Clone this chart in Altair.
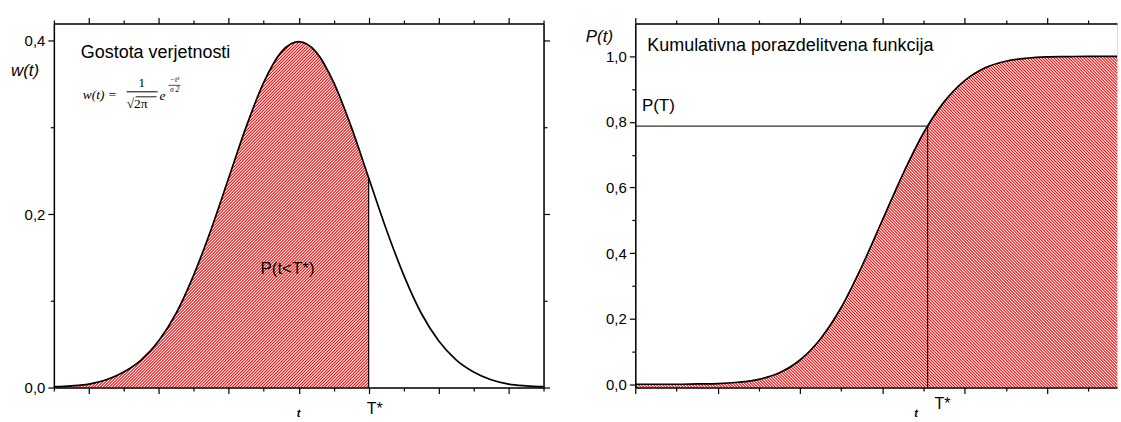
import math

import altair as alt
import pandas as pd

FONT = "Liberation Sans"
SERIF = "Liberation Serif"

# ---- left panel: probability density w(t), t in units of sigma ----
t_pdf = [-3.5, -3.25, -3.0, -2.75, -2.5, -2.25, -2.0, -1.75, -1.5, -1.25, -1.0,
         -0.75, -0.5, -0.25, 0.0, 0.25, 0.5, 0.75, 1.0, 1.25, 1.5, 1.75, 2.0,
         2.25, 2.5, 2.75, 3.0, 3.25, 3.5]
w_pdf = [0.001, 0.002, 0.004, 0.009, 0.018, 0.032, 0.054, 0.086, 0.130, 0.183, 0.242,
         0.301, 0.352, 0.387, 0.399, 0.387, 0.352, 0.301, 0.242, 0.183, 0.130, 0.086, 0.054,
         0.032, 0.018, 0.009, 0.004, 0.002, 0.001]
t_star_pdf = 1.0
w_star = 0.242

# ---- right panel: cumulative distribution P(t) ----
t_cdf = [0.0, 0.25, 0.5, 0.75, 1.0, 1.25, 1.5, 1.75, 2.0, 2.25, 2.5, 2.75, 3.0,
         3.25, 3.5, 3.75, 4.0, 4.25, 4.5, 4.75, 5.0, 5.25, 5.5, 5.85]
p_cdf = [0.000, 0.000, 0.000, 0.001, 0.002, 0.006, 0.015, 0.035, 0.074, 0.139, 0.234, 0.359, 0.500,
         0.641, 0.766, 0.861, 0.926, 0.965, 0.985, 0.994, 0.998, 0.999, 1.000, 1.000]
t_star_cdf = 3.55
p_star = 0.787

# tick positions
pdf_x_major = [-3, -2, -1, 0, 1, 2, 3]
pdf_x_minor = [-3.5, -2.5, -1.5, -0.5, 0.5, 1.5, 2.5, 3.5]
pdf_y_major = [0.0, 0.2, 0.4]
pdf_y_minor = [0.1, 0.3]
cdf_x_major = [0, 1, 2, 3, 4, 5]
cdf_x_minor = [0.5, 1.5, 2.5, 3.5, 4.5, 5.5]
cdf_y_major = [0.0, 0.2, 0.4, 0.6, 0.8, 1.0]
cdf_y_minor = [0.1, 0.3, 0.5, 0.7, 0.9]

PDF_X, PDF_Y = [-3.5, 3.5], [0.0, 0.42]
CDF_X, CDF_Y = [0.0, 5.85], [-0.01, 1.1]
W1, H1 = 491, 365
W2, H2 = 483, 365


def hatch(w, h, rising, period=3.0, steps=6):
    """Diagonal red/white stripes as a linear gradient in bounding-box units.

    Each stripe is a smooth red-to-white ramp so the lines look anti-aliased.
    """
    n = math.ceil((w + h) / period)
    k = n * period / (w * w + h * h)
    stops = []
    for i in range(n):
        for j in range(steps):
            f = j / steps
            red = 0.5 * (1 + math.cos(2 * math.pi * f))
            g = round(255 * (1 - red))
            stops.append(alt.GradientStop(color=f"#ff{g:02x}{g:02x}",
                                          offset=round((i + f) / n, 7)))
    stops.append(alt.GradientStop(color="#ff0000", offset=1))
    if rising:   # "/" stripes
        return alt.Gradient(gradient="linear", stops=stops, x1=0, y1=0, x2=k * w, y2=k * h)
    return alt.Gradient(gradient="linear", stops=stops, x1=0, y1=1, x2=k * w, y2=1 - k * h)


def axis(orient, values, major, labels=False):
    kw = dict(orient=orient, values=values, title=None, grid=False, zindex=1,
              tickSize=6 if major else 3.5, tickColor="black", tickWidth=1.2,
              domain=major, domainColor="black", domainWidth=1.5, labels=labels)
    if labels:
        kw.update(labelExpr="replace(format(datum.value, '.1f'), '.', ',')",
                  labelFont=FONT, labelFontSize=15, labelColor="black",
                  labelPadding=3, labelFlush=False)
    return alt.Axis(**kw)


def sc(dom):
    return alt.Scale(domain=dom, nice=False, zero=False)


def curve_layers(df, xf, yf, xd, yd, xmaj, xmin, ymaj, ymin, right_axis=True):
    base = alt.Chart(df)
    main = base.mark_line(interpolate="monotone", color="black", strokeWidth=1.7).encode(
        x=alt.X(f"{xf}:Q", scale=sc(xd), axis=axis("top", xmaj, True)),
        y=alt.Y(f"{yf}:Q", scale=sc(yd),
                axis=axis("right", ymaj, True) if right_axis else None))
    ghost1 = base.mark_line(opacity=0).encode(
        x=alt.X(f"{xf}:Q", scale=sc(xd), axis=axis("bottom", xmin, False)),
        y=alt.Y(f"{yf}:Q", scale=sc(yd), axis=axis("left", ymin, False)))
    ghost2 = base.mark_line(opacity=0).encode(
        x=alt.X(f"{xf}:Q", scale=sc(xd), axis=axis("top", xmin, False)),
        y=alt.Y(f"{yf}:Q", scale=sc(yd),
                axis=axis("right", ymin, False) if right_axis else None))
    return main, ghost1, ghost2


def label(text, x, y, size=17, align="left", style="normal", weight="normal", font=FONT):
    return alt.Chart(alt.Data(values=[{}])).mark_text(
        text=text, font=font, fontSize=size, align=align, baseline="middle",
        fontStyle=style, fontWeight=weight, color="black").encode(
        x=alt.value(x), y=alt.value(y))


def bar(x0, x1, y, width=1.0):
    return alt.Chart(alt.Data(values=[{}])).mark_rule(color="black", strokeWidth=width).encode(
        x=alt.value(x0), x2=alt.value(x1), y=alt.value(y))


def data_text(xd, yd, text, xv, yv=None, ypix=None, size=17, align="left", dx=0,
              style="normal", weight="normal"):
    df = pd.DataFrame({"x": [xv], "y": [yv if yv is not None else 0.0]})
    enc = dict(x=alt.X("x:Q", scale=sc(xd), axis=None))
    enc["y"] = alt.value(ypix) if ypix is not None else alt.Y("y:Q", scale=sc(yd), axis=None)
    return alt.Chart(df).mark_text(
        text=text, font=FONT, fontSize=size, align=align, baseline="middle", dx=dx,
        fontStyle=style, fontWeight=weight, color="black").encode(**enc)


# ================= left panel =================
pdf = pd.DataFrame({"t": t_pdf, "w": w_pdf})
pdf_fill = pdf[pdf["t"] <= t_star_pdf]

hw = W1 * (t_star_pdf - PDF_X[0]) / (PDF_X[1] - PDF_X[0])
hh = H1 * (max(w_pdf) - PDF_Y[0]) / (PDF_Y[1] - PDF_Y[0])
area_l = alt.Chart(pdf_fill).mark_area(
    interpolate="monotone", color=hatch(hw, hh, True), strokeWidth=0).encode(
    x=alt.X("t:Q", scale=sc(PDF_X), axis=axis("bottom", pdf_x_major, True)),
    y=alt.Y("w:Q", scale=sc(PDF_Y), axis=axis("left", pdf_y_major, True, labels=True)))

line_l, g1_l, g2_l = curve_layers(pdf, "t", "w", PDF_X, PDF_Y,
                                  pdf_x_major, pdf_x_minor, pdf_y_major, pdf_y_minor)

rule_l = alt.Chart(pd.DataFrame({"x": [t_star_pdf], "y": [0.0], "y2": [w_star]})).mark_rule(
    color="black", strokeWidth=1.2).encode(
    x=alt.X("x:Q", scale=sc(PDF_X), axis=None),
    y=alt.Y("y:Q", scale=sc(PDF_Y), axis=None), y2="y2:Q")

left = alt.layer(
    area_l, line_l, g1_l, g2_l, rule_l,
    label("Gostota verjetnosti", 27, 30, size=18),
    label("w(t)", -43, 48, size=17, style="italic"),
    # w(t) = 1/sqrt(2*pi) * e^(-t^2/sigma 2)
    label("w(t) =", 29, 72, size=13.5, style="italic", font=SERIF),
    label("1", 88, 60, size=13, align="center", font=SERIF),
    bar(73, 104, 68.5),
    label("√2π", 73, 81, size=13.5, font=SERIF),
    bar(82, 103, 73.5, 0.9),
    label("e", 106, 73, size=13.5, style="italic", font=SERIF),
    label("−t²", 121, 57, size=7.5, align="center", style="italic", font=SERIF),
    bar(115, 127, 62, 0.7),
    label("σ 2", 121, 67, size=7.5, align="center", style="italic", font=SERIF),
    data_text(PDF_X, PDF_Y, "P(t<T*)", -0.16, yv=0.137, align="center"),
    data_text(PDF_X, PDF_Y, "T*", t_star_pdf, ypix=H1 + 22, size=16, dx=-2),
    data_text(PDF_X, PDF_Y, "t", 0.0, ypix=H1 + 27, size=11, align="center",
              style="italic", weight="bold"),
).resolve_axis(x="independent", y="independent").properties(width=W1, height=H1)

# ================= right panel =================
cdf = pd.DataFrame({"t": t_cdf, "p": p_cdf, "base": [CDF_Y[0]] * len(t_cdf)})

hw2 = W2
hh2 = H2 * (max(p_cdf) - CDF_Y[0]) / (CDF_Y[1] - CDF_Y[0])
area_r = alt.Chart(cdf).mark_area(
    interpolate="monotone", color=hatch(hw2, hh2, False), strokeWidth=0).encode(
    x=alt.X("t:Q", scale=sc(CDF_X), axis=axis("bottom", cdf_x_major, True)),
    y=alt.Y("p:Q", scale=sc(CDF_Y), axis=axis("left", cdf_y_major, True, labels=True)),
    y2="base:Q")

line_r, g1_r, g2_r = curve_layers(cdf, "t", "p", CDF_X, CDF_Y,
                                  cdf_x_major, cdf_x_minor, cdf_y_major, cdf_y_minor,
                                  right_axis=False)

vrule_r = alt.Chart(pd.DataFrame({"x": [t_star_cdf], "y": [CDF_Y[0]], "y2": [p_star]})).mark_rule(
    color="black", strokeWidth=1.2).encode(
    x=alt.X("x:Q", scale=sc(CDF_X), axis=None),
    y=alt.Y("y:Q", scale=sc(CDF_Y), axis=None), y2="y2:Q")
hrule_r = alt.Chart(pd.DataFrame({"x": [CDF_X[0]], "x2": [t_star_cdf], "y": [p_star]})).mark_rule(
    color="#333333", strokeWidth=1.2).encode(
    x=alt.X("x:Q", scale=sc(CDF_X), axis=None), x2="x2:Q",
    y=alt.Y("y:Q", scale=sc(CDF_Y), axis=None))

right = alt.layer(
    area_r, line_r, g1_r, g2_r, vrule_r, hrule_r,
    label("Kumulativna porazdelitvena funkcija", 12, 23, size=18),
    label("P(t)", -36, 14, size=17, align="center", style="italic"),
    data_text(CDF_X, CDF_Y, "P(T)", 0.08, yv=0.848),
    data_text(CDF_X, CDF_Y, "T*", t_star_cdf, ypix=H2 + 17, size=16, dx=7),
    data_text(CDF_X, CDF_Y, "t", 3.41, ypix=H2 + 27, size=11, align="center",
              style="italic", weight="bold"),
).resolve_axis(x="independent", y="independent").properties(width=W2, height=H2)

chart = alt.hconcat(left, right, spacing=92, bounds="flush").properties(
    padding={"left": 10, "top": 15, "right": 0, "bottom": 0}
).configure_view(stroke=None).configure(font=FONT)

chart.save("out.html", embed_options={"renderer": "svg", "actions": False})
